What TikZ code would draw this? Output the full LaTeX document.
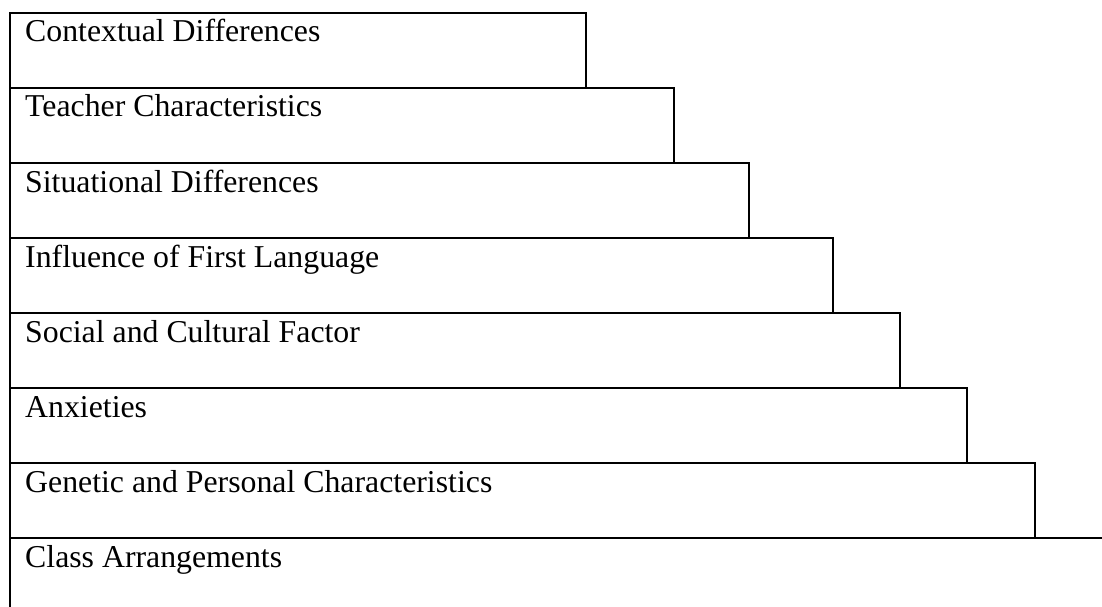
\documentclass[tikz,border=0pt]{standalone}
\usepackage{fontspec}
\setmainfont{Liberation Serif}
\begin{document}
\begin{tikzpicture}[x=1pt,y=-1pt,
  boxline/.style={draw=black,line width=1.5pt},
  label/.style={anchor=base west,inner sep=0pt,font=\fontsize{31.8}{36}\selectfont}]
\useasboundingbox (0,0) rectangle (1102,607);
\draw[boxline] (10,13) rectangle (586,88);
\draw[boxline] (10,88) rectangle (674,163);
\draw[boxline] (10,163) rectangle (749,238);
\draw[boxline] (10,238) rectangle (833,313);
\draw[boxline] (10,313) rectangle (900,388);
\draw[boxline] (10,388) rectangle (967,463);
\draw[boxline] (10,463) rectangle (1035,538);
\draw[boxline] (1102,538) -- (10,538) -- (10,607);
\node[label] (t1) at (25,42) {Contextual Differences};
\node[label] (t2) at (25,117) {Teacher Characteristics};
\node[label] (t3) at (25,192) {Situational Differences};
\node[label] (t4) at (25,267) {Influence of First Language};
\node[label] (t5) at (25,342) {Social and Cultural Factor};
\node[label] (t6) at (25,417) {Anxieties};
\node[label] (t7) at (25,492) {Genetic and Personal Characteristics};
\node[label] (t8) at (25,567) {Class Arrangements};
\end{tikzpicture}
\end{document}
